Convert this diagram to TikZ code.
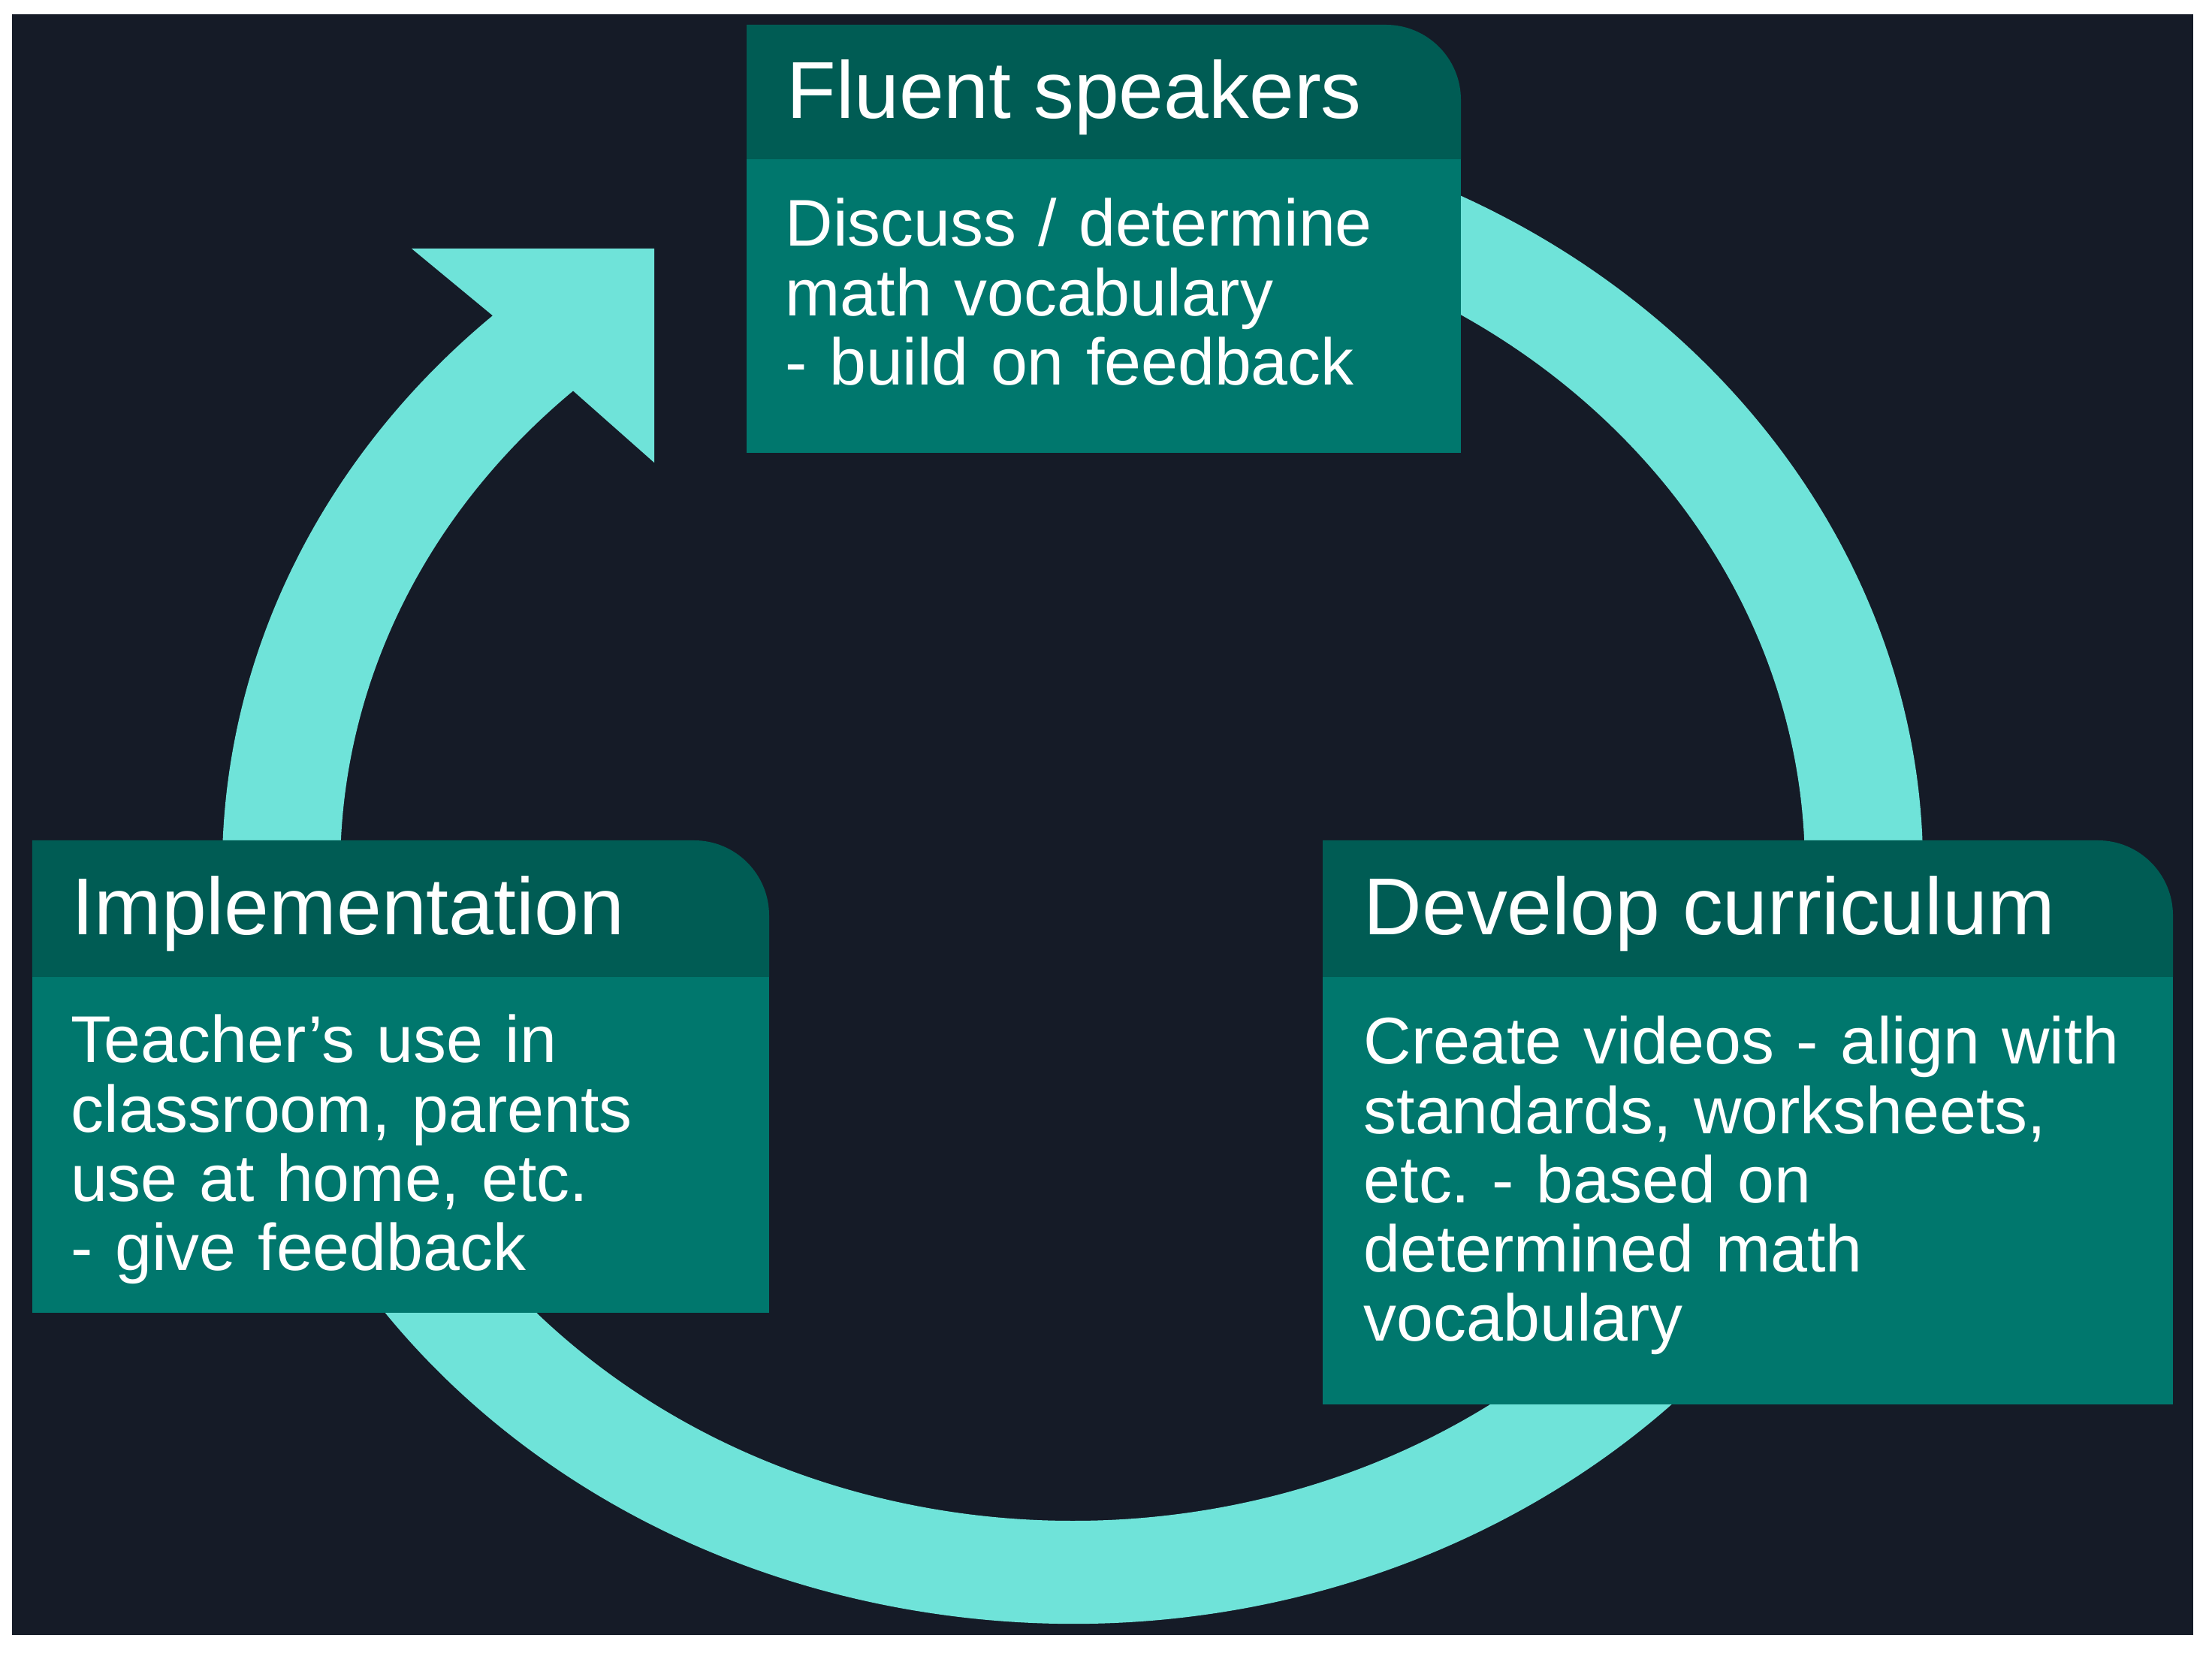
\documentclass[tikz,border=0pt]{standalone}
\usepackage{fontspec}
\setmainfont{Liberation Sans}
\usetikzlibrary{calc}
\frenchspacing
\definecolor{bgdark}{HTML}{151B27}
\definecolor{hdrc}{HTML}{005C54}
\definecolor{bodyc}{HTML}{00776D}
\definecolor{ringc}{HTML}{6FE3D9}
\tikzset{
  hdrtext/.style={anchor=base west, inner sep=0pt, text=white, font=\fontsize{30.6}{36}\selectfont},
  bodytext/.style={anchor=base west, inner sep=0pt, text=white, align=left, text width=9.5cm,
    font=\fontsize{25}{26.2}\selectfont},
}
\newcommand{\cardbox}[6]{% x1, x2, ybot, ytop, ysplit, radius
  \fill[bodyc] (#1,#3) rectangle (#2,#5);
  \fill[hdrc] (#1,#5) -- (#1,#4) -- ({#2-#6},#4) arc[start angle=90, end angle=0, radius=#6] -- (#2,#5) -- cycle;
}
\begin{document}
\begin{tikzpicture}
\useasboundingbox (0,0) rectangle (29.45,22);
\fill[white] (0,0) rectangle (29.45,22);
\fill[bgdark] (0.16,0.23) rectangle (29.20,21.81);
\coordinate (C) at (14.28,10.44);
% ring arrow
\fill[ringc] ($(C)+(80:11.32 and 10.06)$) arc[start angle=80, end angle=-227, x radius=11.32, y radius=10.06]
  -- (5.48,18.69) -- (8.71,18.69) -- (8.71,15.84)
  -- ($(C)+(-227:9.75 and 8.69)$) arc[start angle=-227, end angle=80, x radius=9.75, y radius=8.69] -- cycle;
% boxes
\cardbox{9.94}{19.45}{15.97}{21.67}{19.88}{1.0}
\cardbox{0.43}{10.24}{4.52}{10.81}{8.99}{1.0}
\cardbox{17.61}{28.93}{3.30}{10.81}{8.99}{1.0}
% texts
\node[hdrtext] (fluentH) at (10.47,20.42) {Fluent speakers};
\node[bodytext] (fluentB) at (10.45,18.72) {Discuss / determine\\math vocabulary\\- build on feedback};
\node[hdrtext] (implH) at (0.95,9.55) {Implementation};
\node[bodytext] (implB) at (0.94,7.85) {Teacher’s use in\\classroom, parents\\use at home, etc.\\- give feedback};
\node[hdrtext] (devH) at (18.15,9.55) {Develop curriculum};
\node[bodytext, text width=10.5cm] (devB) at (18.15,7.83) {Create videos - align with\\standards, worksheets,\\etc. - based on\\determined math\\vocabulary};
\end{tikzpicture}
\end{document}
